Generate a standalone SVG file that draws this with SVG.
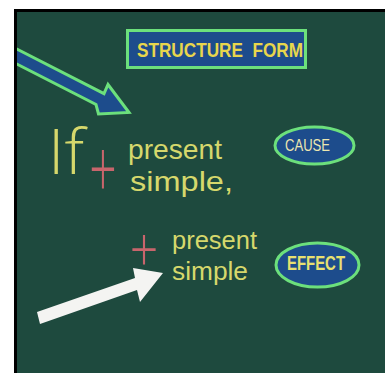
<svg xmlns="http://www.w3.org/2000/svg" width="385" height="373" viewBox="0 0 385 373">
  <defs>
    <clipPath id="board"><rect x="17" y="12" width="368" height="361"/></clipPath>
    <style>
      .hand { font-family: "Liberation Sans", Arial, sans-serif; font-weight: normal; fill: #d6d86c; }
      .thin { font-family: "Open Sans", "Liberation Sans", sans-serif; font-weight: 300; }
      .red { fill: #c8656c; }
      .box { fill: #1d4c8c; stroke: #6ce07c; stroke-width: 3; }
      .lbl { font-family: "Liberation Sans", Arial, sans-serif; text-anchor: middle; }
    </style>
  </defs>
  <rect x="0" y="0" width="385" height="373" fill="#ffffff"/>
  <rect x="14" y="9" width="371" height="364" fill="#000000"/>
  <rect x="17" y="12" width="368" height="361" fill="#1e4a3e"/>

  <g id="connectors" clip-path="url(#board)">
    <polygon class="box" points="8,44.5 104,93.6 108,84.5 129,112.5 98.5,114 96,104.5 8,59.5" stroke-linejoin="miter"/>
    <polygon points="37,312 135,278 133,268 163,273 140,302 137,290 40,324" fill="#f4f4f2"/>
  </g>

  <g id="title">
    <rect class="box" x="127.5" y="30.5" width="178" height="37"/>
    <text x="220" y="56.5" xml:space="preserve" font-family="Liberation Sans, Arial, sans-serif" font-weight="bold" font-size="20" fill="#e8d64c" text-anchor="middle" textLength="166" lengthAdjust="spacingAndGlyphs">STRUCTURE  FORM</text>
  </g>

  <g id="cause">
    <ellipse class="box" cx="314.5" cy="145.5" rx="39.5" ry="18.5" stroke-width="2.5"/>
    <text class="lbl" x="307.5" y="151" font-size="16.5" fill="#ece6b0" textLength="45" lengthAdjust="spacingAndGlyphs">CAUSE</text>
  </g>

  <g id="effect">
    <ellipse class="box" cx="317.5" cy="265" rx="41.5" ry="22" stroke-width="2.5"/>
    <text class="lbl" x="316" y="270" font-size="19.5" font-weight="bold" fill="#e8e070" textLength="58" lengthAdjust="spacingAndGlyphs">EFFECT</text>
  </g>

  <g id="if-clause">
    <text class="thin" x="48" y="174" font-size="62" fill="#d6d86c" textLength="36" lengthAdjust="spacingAndGlyphs">If</text>
    <text class="thin red" x="0" y="0" font-size="48" text-anchor="middle" transform="translate(103,198) scale(1,1.7)">+</text>
    <text class="hand" x="128" y="159" font-size="28" textLength="94" lengthAdjust="spacingAndGlyphs">present</text>
    <text class="hand" x="130" y="191" font-size="28" textLength="103" lengthAdjust="spacingAndGlyphs">simple,</text>
  </g>

  <g id="main-clause">
    <text class="thin red" x="0" y="0" font-size="50" text-anchor="middle" transform="translate(144,272) scale(1,1.25)">+</text>
    <text class="hand" x="172" y="249" font-size="26" textLength="85" lengthAdjust="spacingAndGlyphs">present</text>
    <text class="hand" x="172" y="280" font-size="26" textLength="76" lengthAdjust="spacingAndGlyphs">simple</text>
  </g>
</svg>
